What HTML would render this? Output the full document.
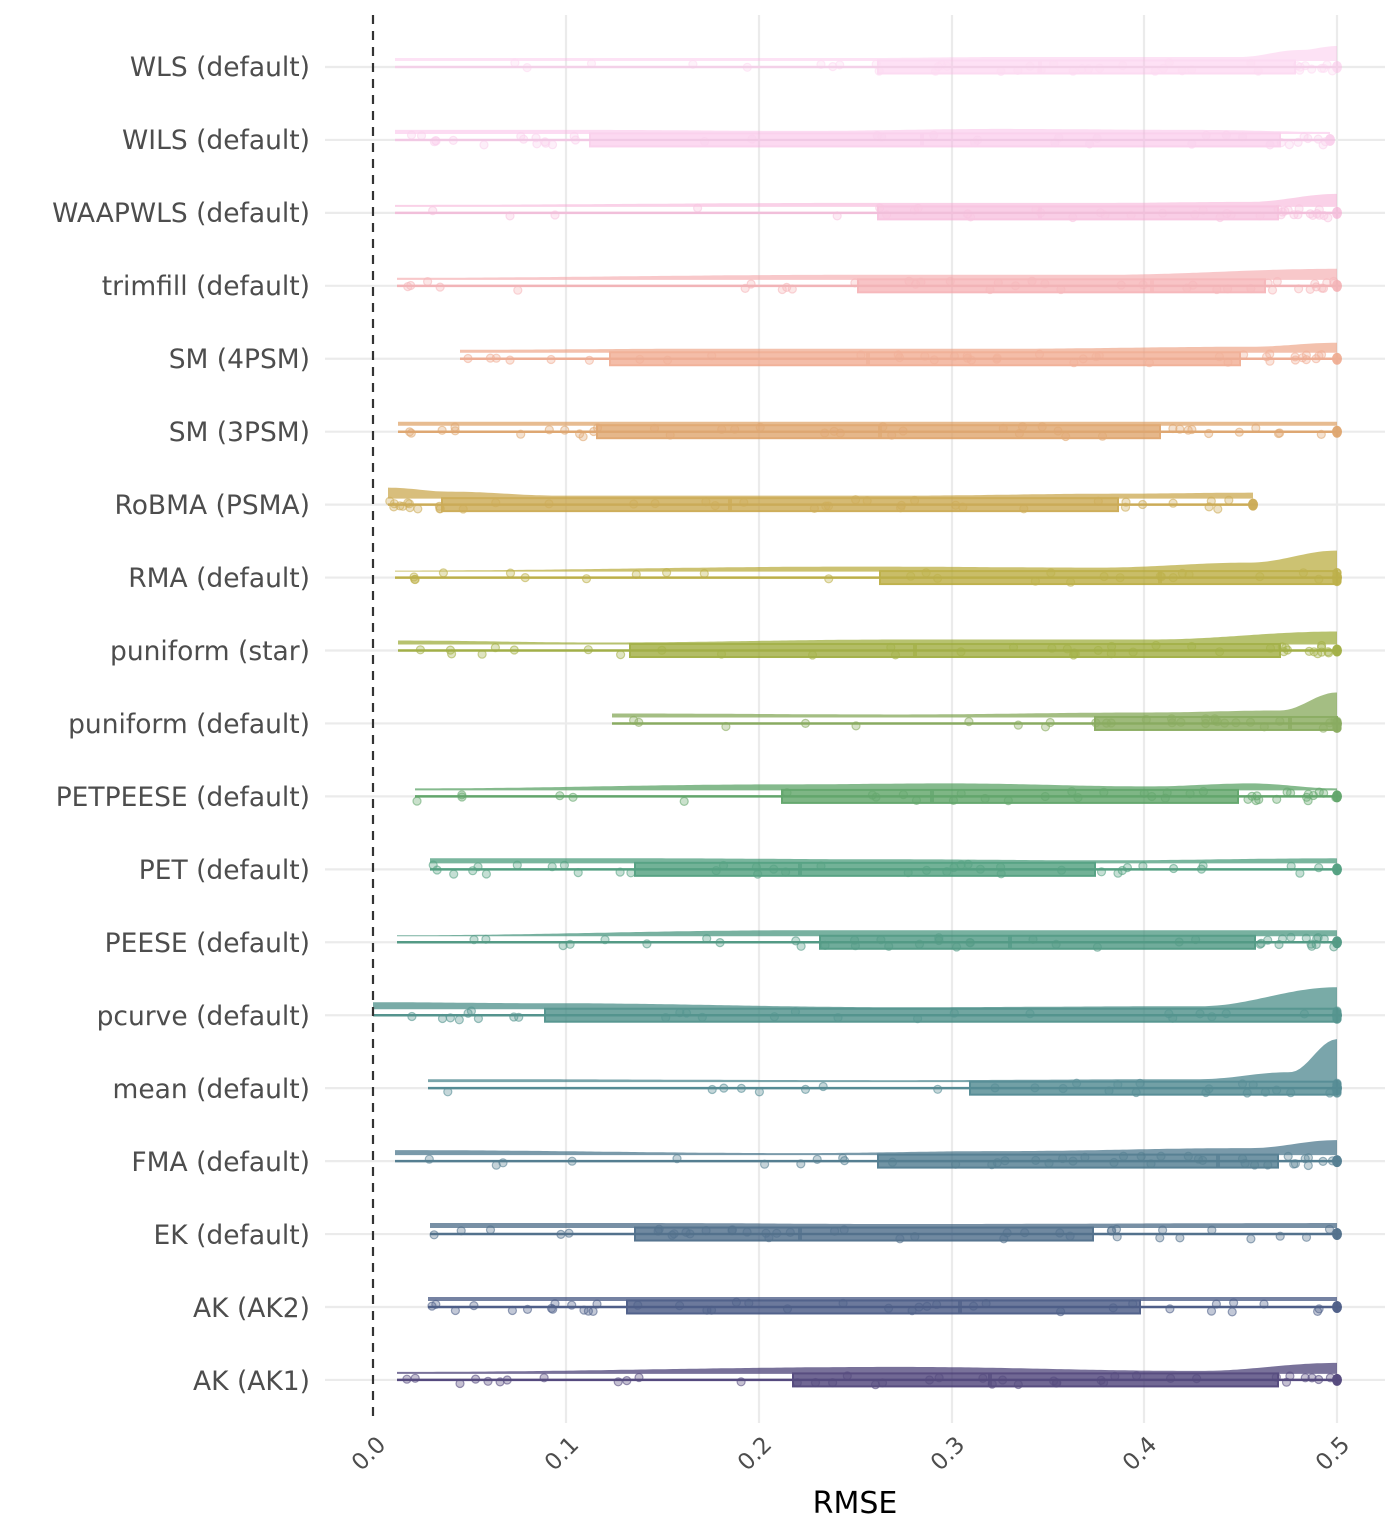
<!DOCTYPE html>
<html><head><meta charset="utf-8"><style>
html,body{margin:0;padding:0;background:#fff;}
svg{display:block;}
.yl{font-family:"DejaVu Sans","Liberation Sans",sans-serif;font-size:26.5px;fill:#4d4d4d;text-anchor:end;}
.xl{font-family:"DejaVu Sans","Liberation Sans",sans-serif;font-size:23px;fill:#4d4d4d;text-anchor:end;}
</style></head><body>
<svg id="s" width="1400" height="1536" viewBox="0 0 1400 1536" xmlns="http://www.w3.org/2000/svg">
<g id="grid"></g>
<g id="plot"></g>
<line x1="373" y1="15" x2="373" y2="1423" stroke="#333" stroke-width="2.2" stroke-dasharray="9,7"/>
<g>
<text class="yl" x="310" y="76">WLS (default)</text>
<text class="yl" x="310" y="149">WILS (default)</text>
<text class="yl" x="310" y="222">WAAPWLS (default)</text>
<text class="yl" x="310" y="295">trimfill (default)</text>
<text class="yl" x="310" y="368">SM (4PSM)</text>
<text class="yl" x="310" y="441">SM (3PSM)</text>
<text class="yl" x="310" y="514">RoBMA (PSMA)</text>
<text class="yl" x="310" y="587">RMA (default)</text>
<text class="yl" x="310" y="660">puniform (star)</text>
<text class="yl" x="310" y="733">puniform (default)</text>
<text class="yl" x="310" y="806">PETPEESE (default)</text>
<text class="yl" x="310" y="879">PET (default)</text>
<text class="yl" x="310" y="952">PEESE (default)</text>
<text class="yl" x="310" y="1025">pcurve (default)</text>
<text class="yl" x="310" y="1098">mean (default)</text>
<text class="yl" x="310" y="1171">FMA (default)</text>
<text class="yl" x="310" y="1244">EK (default)</text>
<text class="yl" x="310" y="1317">AK (AK2)</text>
<text class="yl" x="310" y="1390">AK (AK1)</text>
</g>
<g>
<text class="xl" transform="translate(387,1446) rotate(-45)">0.0</text>
<text class="xl" transform="translate(580,1446) rotate(-45)">0.1</text>
<text class="xl" transform="translate(773,1446) rotate(-45)">0.2</text>
<text class="xl" transform="translate(966,1446) rotate(-45)">0.3</text>
<text class="xl" transform="translate(1158,1446) rotate(-45)">0.4</text>
<text class="xl" transform="translate(1351,1446) rotate(-45)">0.5</text>
</g>
<text x="855" y="1513" style="font-family:'DejaVu Sans','Liberation Sans',sans-serif;font-size:30px;fill:#000;text-anchor:middle">RMSE</text>
</svg>
<script>
var NS="http://www.w3.org/2000/svg";
function el(p,t,a){var e=document.createElementNS(NS,t);for(var k in a)e.setAttribute(k,a[k]);p.appendChild(e);return e;}
var grid=document.getElementById('grid'),plot=document.getElementById('plot');
[566,759,952,1144,1337].forEach(function(x){el(grid,'line',{x1:x,y1:15,x2:x,y2:1423,stroke:'#ebebeb','stroke-width':2.2});});
var y0=67,dy=72.94;
for(var i=0;i<19;i++){var y=y0+i*dy;el(grid,'line',{x1:325,y1:y,x2:1385,y2:y,stroke:'#ebebeb','stroke-width':2.2});}
var rows=[
['#fbb8e6',395,878,1040,1295,1337,[[395,2],[870,2],[1000,3],[1240,3],[1300,10],[1337,14]],0.5],
['#f7aee0',395,590,922,1280,1330,[[395,3],[600,3],[800,2],[1000,4],[1200,3],[1330,1]],0.55],
['#f5a8d2',395,878,1040,1278,1337,[[395,1],[870,3],[1100,3],[1250,4],[1337,12]],0.65],
['#f4a2a6',397,858,1152,1265,1337,[[397,1],[850,4],[1100,4],[1337,10]],0.75],
['#ee9f80',460,610,868,1240,1337,[[460,2],[700,3],[1000,3],[1250,5],[1337,9]],0.8],
['#dc9c5e',398,597,880,1160,1337,[[398,3],[1000,3],[1337,3]],0.85],
['#c6a03f',388,442,730,1118,1253,[[388,10],[450,6],[560,2],[900,2],[1120,4],[1253,5]],0.85],
['#b4a52f',395,880,1160,1337,1337,[[395,0],[860,4],[1100,3],[1250,8],[1337,20]],0.85],
['#96a52c',398,630,915,1280,1337,[[398,3],[600,1],[900,4],[1150,4],[1337,12]],0.85],
['#79a049',612,1095,1290,1337,1337,[[612,3],[900,2],[1150,4],[1280,6],[1337,24]],0.85],
['#4c9a57',415,782,932,1238,1337,[[415,1],[780,5],[950,6],[1150,3],[1250,6],[1337,1]],0.85],
['#3c9470',430,635,800,1095,1337,[[430,4],[650,4],[900,3],[1100,2],[1337,4]],0.85],
['#3a8c74',397,820,1010,1255,1337,[[397,0],[800,5],[1000,5],[1337,5]],0.85],
['#3b857e',373,545,1337,1337,1337,[[373,6],[550,5],[900,1],[1200,2],[1337,21]],0.85],
['#3c7b85',428,970,1337,1337,1337,[[428,2],[900,1],[1200,2],[1290,9],[1337,42]],0.85],
['#3c6c82',395,878,1218,1278,1337,[[395,4],[800,1],[1000,3],[1250,6],[1337,14]],0.85],
['#395c7c',430,635,800,1093,1337,[[430,4],[650,4],[900,3],[1337,4]],0.85],
['#344777',428,627,960,1140,1337,[[428,3],[700,3],[1100,3],[1337,3]],0.85],
['#3b2f6b',397,793,990,1278,1337,[[397,1],[900,6],[1200,2],[1337,10]],0.85]
];
var seed=7;function rnd(){seed=(seed*16807)%2147483647;return seed/2147483647;}
function interp(pts,x){for(var k=0;k<pts.length-1;k++){if(x>=pts[k][0]&&x<=pts[k+1][0]){var t=(x-pts[k][0])/(pts[k+1][0]-pts[k][0]);t=(1-Math.cos(Math.PI*t))/2;return pts[k][1]+(pts[k+1][1]-pts[k][1])*t;}}return pts[pts.length-1][1];}
rows.forEach(function(r,i){
 var y=y0+i*dy,c=r[0],a=r[7],g=el(plot,'g',{opacity:a});
 var vb=y-6,pts=r[6],x0=pts[0][0],x1=pts[pts.length-1][0],d='M'+x0+','+vb;
 for(var x=x0;x<=x1;x+=4)d+=' L'+x+','+(vb-1-interp(pts,x)).toFixed(1);
 d+=' L'+x1+','+(vb-1-pts[pts.length-1][1])+' L'+x1+','+vb+' Z';
 el(g,'path',{d:d,fill:c,opacity:0.8});
 el(g,'line',{x1:r[1],y1:y,x2:r[5],y2:y,stroke:c,'stroke-width':2.5});
 el(g,'rect',{x:r[2],y:y-6.5,width:Math.max(r[4]-r[2],1),height:13,fill:c,stroke:c,'stroke-width':2,'fill-opacity':0.85});
 el(g,'line',{x1:r[3],y1:y-6.5,x2:r[3],y2:y+6.5,stroke:c,'stroke-width':4,'stroke-opacity':0.8});
 var n=40;
 for(var k=0;k<n;k++){var u=rnd(),px;
  if(u<0.25)px=r[1]+rnd()*(r[2]-r[1]);else if(u<0.75)px=r[2]+rnd()*(r[4]-r[2]);else px=r[4]+rnd()*(r[5]-r[4]);
  el(g,'circle',{cx:px.toFixed(1),cy:(y+(rnd()-0.5)*10).toFixed(1),r:4,fill:c,'fill-opacity':0.35,stroke:c,'stroke-opacity':0.6,'stroke-width':1.2});}
 el(g,'ellipse',{cx:r[5],cy:y,rx:5,ry:6,fill:c});
});
</script>
</body></html>
